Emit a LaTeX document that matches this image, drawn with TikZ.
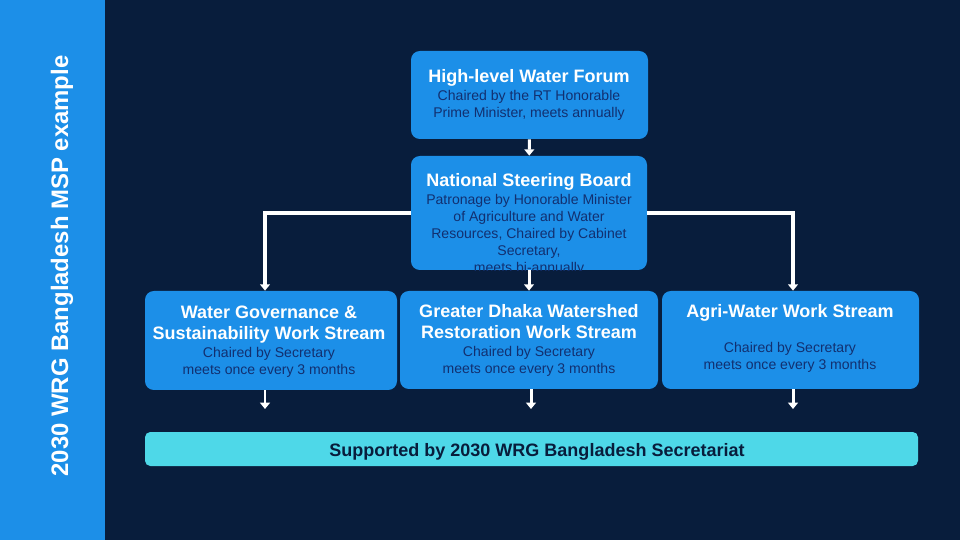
\documentclass[tikz,border=0pt]{standalone}
\usepackage{fontspec}
\setmainfont{Liberation Sans}
\usepackage{tikz}
\usetikzlibrary{arrows.meta, calc, positioning}
\usepackage{xcolor}

\definecolor{navy}{RGB}{8,29,60}
\definecolor{skyblue}{RGB}{28,143,232}
\definecolor{barcyan}{RGB}{78,216,232}
\definecolor{subblue}{RGB}{18,48,112}

\newcommand{\ttlfont}{\fontsize{10.25}{11.9}\selectfont\bfseries}
\newcommand{\subfont}{\fontsize{8}{9.6}\selectfont}

\begin{document}
\begin{tikzpicture}[x=0.02cm, y=-0.02cm, >=Stealth,
  box/.style={fill=skyblue, rounded corners=5pt, inner sep=0pt},
  boxsize/.style 2 args={minimum width={#1*0.02cm}, minimum height={#2*0.02cm}},
  ttl/.style={text=white, font=\ttlfont, align=center, inner sep=0pt},
  sub/.style={text=subblue, font=\subfont, align=center, inner sep=0pt},
  link/.style={draw=white, line width=2pt, -{Triangle[length=3.6pt, width=5.6pt]}},
  arr/.style={draw=white, line width=1.7pt, -{Triangle[length=3.6pt, width=5.6pt]}}
]

% background and side bar
\fill[navy] (0,0) rectangle (960,540);
\fill[skyblue] (0,0) rectangle (105,540);
\node[rotate=90, text=white, font=\fontsize{13.6}{15}\selectfont\bfseries] (side) at (62,266)
  {2030 WRG Bangladesh MSP example};

% boxes
\node[box, boxsize={237}{88}] (hlwf) at (529.5,95) {};
\node[box, boxsize={236}{114}] (nsb) at (529,213) {};
\node[box, boxsize={252}{99}] (wg) at (271,340.5) {};
\node[box, boxsize={258}{98}] (gd) at (529,340) {};
\node[box, boxsize={257}{98}] (agri) at (790.5,340) {};
\node[fill=barcyan, rounded corners=3pt, boxsize={773}{34}, inner sep=0pt] (bar) at (531.5,449) {};

% box texts
\node[ttl] (hlwf-t) at (529,78) {High-level Water Forum};
\node[sub] (hlwf-s) at (529,105) {Chaired by the RT Honorable\\Prime Minister, meets annually};

\node[ttl] (nsb-t) at (529,182) {National Steering Board};
\begin{scope}
  \clip[rounded corners=5pt] (nsb.north west) rectangle (nsb.south east);
  \node[sub] (nsb-s) at (529,235) {Patronage by Honorable Minister\\of Agriculture and Water\\Resources, Chaired by Cabinet\\Secretary,\\meets bi-annually};
\end{scope}

\node[ttl] (wg-t) at (269,324.5) {Water Governance \&\\Sustainability Work Stream};
\node[sub] (wg-s) at (269,362) {Chaired by Secretary\\meets once every 3 months};

\node[ttl] (gd-t) at (529,322) {Greater Dhaka Watershed\\Restoration Work Stream};
\node[sub] (gd-s) at (529,361) {Chaired by Secretary\\meets once every 3 months};

\node[ttl] (agri-t) at (790,313) {Agri-Water Work Stream};
\node[sub] (agri-s) at (790,357) {Chaired by Secretary\\meets once every 3 months};

\node[text=navy, font=\fontsize{10.25}{12}\selectfont\bfseries] (bar-t) at (537,452)
  {Supported by 2030 WRG Bangladesh Secretariat};

% connectors
\draw[arr] (hlwf) -- (nsb);
\draw[arr] (nsb) -- (gd);
\draw[link] (nsb.west) -| ($(wg.north)+(-6,0)$);
\draw[link] (nsb.east) -| ($(agri.north)+(2.5,0)$);

% outputs to the secretariat
\coordinate (wg-out) at (265,409);
\coordinate (gd-out) at (531,409);
\coordinate (agri-out) at (793,409);
\draw[arr] (wg.south -| wg-out) -- (wg-out);
\draw[arr] (gd.south -| gd-out) -- (gd-out);
\draw[arr] (agri.south -| agri-out) -- (agri-out);

\end{tikzpicture}
\end{document}
